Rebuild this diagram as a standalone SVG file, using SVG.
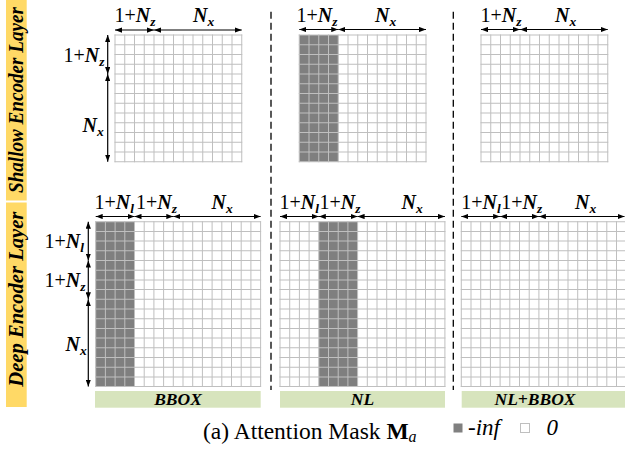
<svg xmlns="http://www.w3.org/2000/svg" width="625" height="449" viewBox="0 0 625 449">
  <style>
    text { font-family: "Liberation Serif", "Times New Roman", serif; fill: #000; }
    .dim { font-size: 20px; }
    .var { font-weight: bold; font-style: italic; }
    .sub { font-size: 13.5px; font-weight: bold; font-style: italic; }
    .side { font-size: 20px; font-weight: bold; font-style: italic; }
    .tag { font-size: 17.5px; font-weight: bold; font-style: italic; }
    /* grid lines are drawn as one wide dashed stroke per direction */
    .g13 { fill: none; stroke: #BFBFBF; stroke-dasharray: 1 8.75; }
    .g17 { fill: none; stroke: #BFBFBF; stroke-dasharray: 1 8.7; }
    .cell0 { fill: #FFFFFF; }
    .cellinf { fill: #7F7F7F; }
    .arrow { stroke: #000; stroke-width: 1.2; fill: none; marker-start: url(#ah); marker-end: url(#ah); }
    .sep { stroke: #000; stroke-width: 1.3; stroke-dasharray: 7 4; }
    .band { fill: #FFD966; }
    .label-bar { fill: #D7E4BD; }
  </style>
  <defs>
    <marker id="ah" viewBox="0 0 8 6" refX="8" refY="3" markerWidth="7" markerHeight="5.5" markerUnits="userSpaceOnUse" orient="auto-start-reverse">
      <path d="M0,0 L8,3 L0,6 z" fill="#000"/>
    </marker>
  </defs>

  <rect width="625" height="449" fill="#FFFFFF"/>

  <!-- row titles -->
  <g id="shallow-band">
    <rect class="band" x="6" y="0" width="20.7" height="200.5"/>
    <text class="side" transform="translate(22.8,100) rotate(-90)" text-anchor="middle" textLength="186" lengthAdjust="spacingAndGlyphs">Shallow Encoder Layer</text>
  </g>
  <g id="deep-band">
    <rect class="band" x="6" y="202.5" width="20.7" height="204.5"/>
    <text class="side" transform="translate(22.8,299.2) rotate(-90)" text-anchor="middle" textLength="175" lengthAdjust="spacingAndGlyphs">Deep Encoder Layer</text>
  </g>

  <!-- column separators -->
  <g id="separators">
    <line class="sep" x1="271" y1="11.7" x2="271" y2="390"/>
    <line class="sep" x1="453.3" y1="11.7" x2="453.3" y2="390"/>
  </g>

  <!-- shallow layer, BBOX column: 13x13 mask, all zero -->
  <g id="mask-shallow-bbox">
    <rect class="cell0" x="115" y="35" width="126.75" height="126.75"/>
    <line class="g13" x1="114.5" y1="98.375" x2="242.25" y2="98.375" stroke-width="127.75"/>
    <line class="g13" x1="178.375" y1="34.5" x2="178.375" y2="162.25" stroke-width="127.75"/>
    <text class="dim" x="114.5" y="21.7">1+<tspan class="var">N</tspan><tspan class="sub" dy="4">z</tspan></text>
    <text class="dim" x="193" y="21.7"><tspan class="var">N</tspan><tspan class="sub" dy="4">x</tspan></text>
    <text class="dim" x="63.5" y="62">1+<tspan class="var">N</tspan><tspan class="sub" dy="4">z</tspan></text>
    <text class="dim" x="82.5" y="131.5"><tspan class="var">N</tspan><tspan class="sub" dy="4">x</tspan></text>
  </g>

  <!-- shallow layer, NL column: template columns masked -->
  <g id="mask-shallow-nl">
    <rect class="cell0" x="299.25" y="35" width="126.75" height="126.75"/>
    <rect class="cellinf" x="299.25" y="35" width="39" height="126.75"/>
    <line class="g13" x1="298.75" y1="98.375" x2="426.5" y2="98.375" stroke-width="127.75"/>
    <line class="g13" x1="362.625" y1="34.5" x2="362.625" y2="162.25" stroke-width="127.75"/>
    <text class="dim" x="296.5" y="21.7">1+<tspan class="var">N</tspan><tspan class="sub" dy="4">z</tspan></text>
    <text class="dim" x="375" y="21.7"><tspan class="var">N</tspan><tspan class="sub" dy="4">x</tspan></text>
  </g>

  <!-- shallow layer, NL+BBOX column -->
  <g id="mask-shallow-nlbbox">
    <rect class="cell0" x="481" y="35" width="126.75" height="126.75"/>
    <line class="g13" x1="480.5" y1="98.375" x2="608.25" y2="98.375" stroke-width="127.75"/>
    <line class="g13" x1="544.375" y1="34.5" x2="544.375" y2="162.25" stroke-width="127.75"/>
    <text class="dim" x="480.5" y="21.7">1+<tspan class="var">N</tspan><tspan class="sub" dy="4">z</tspan></text>
    <text class="dim" x="555" y="21.7"><tspan class="var">N</tspan><tspan class="sub" dy="4">x</tspan></text>
  </g>

  <!-- deep layer, BBOX column: 17x17 mask, language columns masked -->
  <g id="mask-deep-bbox">
    <rect class="cell0" x="95.7" y="221.7" width="164.9" height="164.9"/>
    <rect class="cellinf" x="95.7" y="221.7" width="38.8" height="164.9"/>
    <line class="g17" x1="95.2" y1="304.15" x2="261.1" y2="304.15" stroke-width="165.9"/>
    <line class="g17" x1="178.15" y1="221.2" x2="178.15" y2="387.1" stroke-width="165.9"/>
    <text class="dim" x="94.5" y="208.5">1+<tspan class="var">N</tspan><tspan class="sub" dy="4">l</tspan></text>
    <text class="dim" x="136" y="208.5">1+<tspan class="var">N</tspan><tspan class="sub" dy="4">z</tspan></text>
    <text class="dim" x="211.5" y="208.5"><tspan class="var">N</tspan><tspan class="sub" dy="4">x</tspan></text>
    <text class="dim" x="44.5" y="248">1+<tspan class="var">N</tspan><tspan class="sub" dy="4">l</tspan></text>
    <text class="dim" x="44.5" y="286.5">1+<tspan class="var">N</tspan><tspan class="sub" dy="4">z</tspan></text>
    <text class="dim" x="65.5" y="351"><tspan class="var">N</tspan><tspan class="sub" dy="4">x</tspan></text>
    <rect class="label-bar" x="95" y="391" width="165.7" height="16.7"/>
    <text class="tag" x="178" y="405" text-anchor="middle">BBOX</text>
  </g>

  <!-- deep layer, NL column: template columns masked -->
  <g id="mask-deep-nl">
    <rect class="cell0" x="280" y="221.7" width="164.9" height="164.9"/>
    <rect class="cellinf" x="318.8" y="221.7" width="38.8" height="164.9"/>
    <line class="g17" x1="279.5" y1="304.15" x2="445.4" y2="304.15" stroke-width="165.9"/>
    <line class="g17" x1="362.45" y1="221.2" x2="362.45" y2="387.1" stroke-width="165.9"/>
    <text class="dim" x="279.5" y="208.5">1+<tspan class="var">N</tspan><tspan class="sub" dy="4">l</tspan></text>
    <text class="dim" x="319.5" y="208.5">1+<tspan class="var">N</tspan><tspan class="sub" dy="4">z</tspan></text>
    <text class="dim" x="401.5" y="208.5"><tspan class="var">N</tspan><tspan class="sub" dy="4">x</tspan></text>
    <rect class="label-bar" x="280" y="391" width="165" height="16.7"/>
    <text class="tag" x="362.5" y="405" text-anchor="middle">NL</text>
  </g>

  <!-- deep layer, NL+BBOX column -->
  <g id="mask-deep-nlbbox">
    <rect class="cell0" x="461.3" y="221.7" width="164.9" height="164.9"/>
    <line class="g17" x1="460.8" y1="304.15" x2="626.7" y2="304.15" stroke-width="165.9"/>
    <line class="g17" x1="543.75" y1="221.2" x2="543.75" y2="387.1" stroke-width="165.9"/>
    <text class="dim" x="461.2" y="208.5">1+<tspan class="var">N</tspan><tspan class="sub" dy="4">l</tspan></text>
    <text class="dim" x="501.2" y="208.5">1+<tspan class="var">N</tspan><tspan class="sub" dy="4">z</tspan></text>
    <text class="dim" x="575" y="208.5"><tspan class="var">N</tspan><tspan class="sub" dy="4">x</tspan></text>
    <rect class="label-bar" x="461.7" y="391" width="165" height="16.7"/>
    <text class="tag" x="535" y="405" text-anchor="middle">NL+BBOX</text>
  </g>

  <!-- dimension arrows -->
  <g id="connectors">
    <line class="arrow" x1="115" y1="30" x2="154" y2="30"/>
    <line class="arrow" x1="154" y1="30" x2="241.75" y2="30"/>
    <line class="arrow" x1="107.7" y1="35" x2="107.7" y2="74"/>
    <line class="arrow" x1="107.7" y1="74" x2="107.7" y2="161.75"/>

    <line class="arrow" x1="299.25" y1="29.5" x2="338.25" y2="29.5"/>
    <line class="arrow" x1="338.25" y1="29.5" x2="426" y2="29.5"/>

    <line class="arrow" x1="481" y1="29.5" x2="520" y2="29.5"/>
    <line class="arrow" x1="520" y1="29.5" x2="607.75" y2="29.5"/>

    <line class="arrow" x1="95.7" y1="216.5" x2="134.5" y2="216.5"/>
    <line class="arrow" x1="134.5" y1="216.5" x2="173.3" y2="216.5"/>
    <line class="arrow" x1="173.3" y1="216.5" x2="260.6" y2="216.5"/>
    <line class="arrow" x1="88.3" y1="221.7" x2="88.3" y2="260.5"/>
    <line class="arrow" x1="88.3" y1="260.5" x2="88.3" y2="299.3"/>
    <line class="arrow" x1="88.3" y1="299.3" x2="88.3" y2="386.6"/>

    <line class="arrow" x1="280" y1="216.5" x2="318.8" y2="216.5"/>
    <line class="arrow" x1="318.8" y1="216.5" x2="357.6" y2="216.5"/>
    <line class="arrow" x1="357.6" y1="216.5" x2="444.9" y2="216.5"/>

    <line class="arrow" x1="461.3" y1="216.5" x2="500.1" y2="216.5"/>
    <line class="arrow" x1="500.1" y1="216.5" x2="538.9" y2="216.5"/>
    <line class="arrow" x1="538.9" y1="216.5" x2="624.5" y2="216.5"/>
  </g>

  <!-- caption and legend -->
  <g id="caption">
    <text x="203" y="439" font-size="23.5">(a) Attention Mask <tspan font-weight="bold">M</tspan><tspan font-style="italic" font-size="16" dy="3">a</tspan></text>
  </g>
  <g id="legend">
    <rect x="453.5" y="423.5" width="9" height="9" fill="#808080"/>
    <text x="468" y="435" font-size="23" font-style="italic">-inf</text>
    <rect x="520.5" y="423.5" width="9" height="9" fill="#FFFFFF" stroke="#BFBFBF" stroke-width="1"/>
    <text x="546.5" y="435" font-size="23" font-style="italic">0</text>
  </g>
</svg>
